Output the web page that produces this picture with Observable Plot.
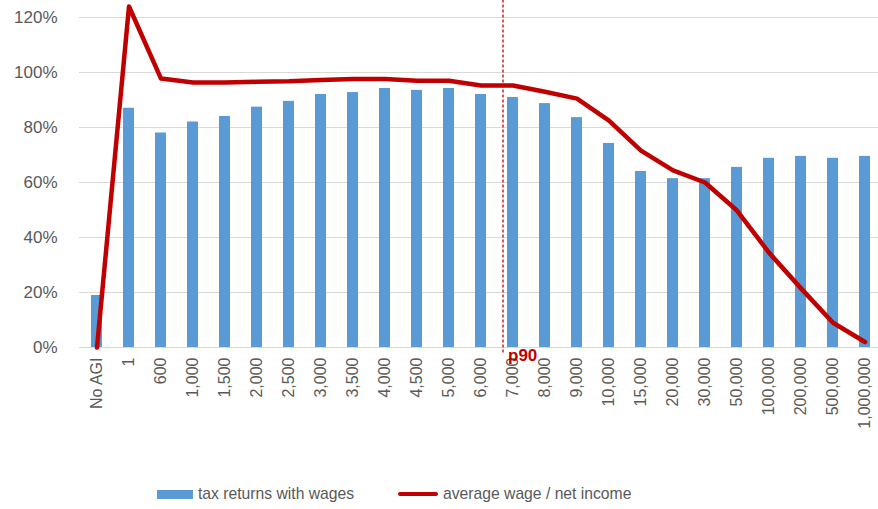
<!DOCTYPE html>
<html>
<head>
<meta charset="utf-8">
<script src="https://cdn.jsdelivr.net/npm/d3@7"></script>
<script src="https://cdn.jsdelivr.net/npm/@observablehq/plot@0.6"></script>
<style>
  body { margin: 0; background: #fff; font-family: "Liberation Sans", Arial, sans-serif; }
  #chart { width: 878px; height: 509px; position: relative; overflow: hidden; }
  .legend { position: absolute; left: 0; top: 484px; height: 20px; width: 878px; font-size: 15.7px; color: #595959; }
  .legend .item { position: absolute; top: 0; display: flex; align-items: center; height: 20px; }
  .legend .sw { display: inline-block; margin-right: 5px; }
</style>
</head>
<body>
<div id="chart"></div>
<script>
const categories = ["No AGI","1","600","1,000","1,500","2,000","2,500","3,000","3,500","4,000","4,500","5,000","6,000","7,000","8,000","9,000","10,000","15,000","20,000","30,000","50,000","100,000","200,000","500,000","1,000,000"];
const returnsWithWages = [18.9,87,78,82,84,87.4,89.5,92,92.7,94.2,93.5,94.2,92,90.9,88.7,83.6,74.2,64,61.4,61.4,65.5,68.8,69.5,68.8,69.5];
const wageToNetIncome = [0,124,97.8,96.4,96.4,96.6,96.8,97.3,97.6,97.6,97,97,95.3,95.3,93,90.5,82.5,71.6,64.4,60,49.8,34.5,21.5,9,2];
const yTicks = [0,20,40,60,80,100,120];
const p90Category = "7,000";
const p90Label = "p90";
const seriesNames = ["tax returns with wages", "average wage / net income"];

const rows = categories.map((c, i) => ({cat: c, bar: returnsWithWages[i], line: wageToNetIncome[i]}));

const gray = "#595959";
const blue = "#5B9BD5";
const red = "#C00000";

const plot = Plot.plot({
  width: 878,
  height: 470,
  marginTop: 17,
  marginBottom: 123,
  marginLeft: 79,
  marginRight: 0,
  style: {fontFamily: "'Liberation Sans', Arial, sans-serif", fontSize: "16px", color: gray, background: "#fff"},
  x: {type: "band", domain: categories, range: [79, 882], paddingInner: 0.67, paddingOuter: 0.335, label: null},
  y: {domain: [0, 120], label: null},
  marks: [
    Plot.ruleY(yTicks, {stroke: "#d9d9d9", strokeWidth: 1, strokeOpacity: 1}),
    Plot.axisY(yTicks, {tickSize: 0, tickPadding: 22, tickFormat: d => d + "%", label: null, fontSize: 17, fill: gray}),
    Plot.axisX({tickSize: 0, tickPadding: 10, tickRotate: -90, label: null, fontSize: 16, fill: gray}),
    Plot.barY(rows, {x: "cat", y: "bar", fill: blue}),
    Plot.ruleX([p90Category], {x: d => d, y1: -2, y2: 127, dx: -10, stroke: red, strokeWidth: 1.3, strokeDasharray: "3,2"}),
    Plot.text([p90Label], {x: () => p90Category, y: 0, text: d => d, dx: -5, dy: 1, textAnchor: "start", lineAnchor: "top", fill: red, fontWeight: "bold", fontSize: 17}),
    Plot.line(rows, {x: "cat", y: "line", stroke: red, strokeWidth: 4.5, strokeLinejoin: "round", curve: "linear"})
  ]
});

const chart = document.getElementById("chart");
chart.appendChild(plot);

const legend = document.createElement("div");
legend.className = "legend";
legend.innerHTML = `
  <div class="item" style="left:157px"><span class="sw" style="width:36px;height:9px;background:${blue}"></span><span>${seriesNames[0]}</span></div>
  <div class="item" style="left:398px"><span class="sw" style="width:40px;height:4px;border-radius:2px;background:${red}"></span><span>${seriesNames[1]}</span></div>`;
chart.appendChild(legend);
</script>
</body>
</html>
